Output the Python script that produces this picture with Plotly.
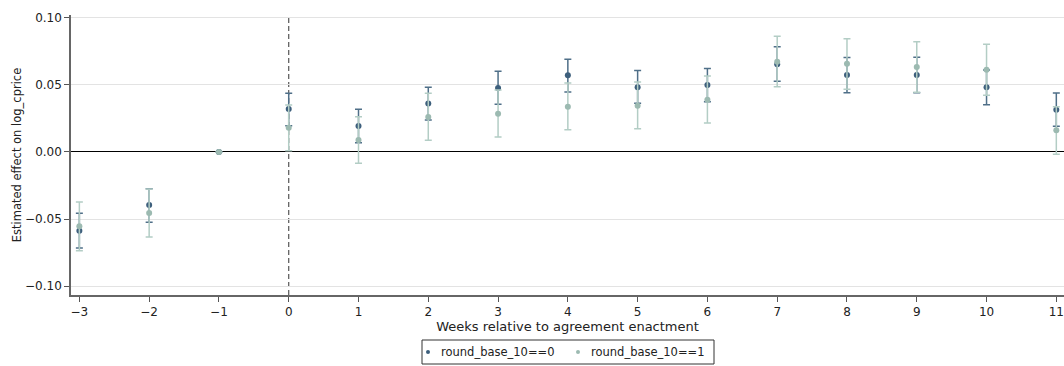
import plotly.graph_objects as go

# Event-study estimates by week relative to enactment
weeks = [-3, -2, -1, 0, 1, 2, 3, 4, 5, 6, 7, 8, 9, 10, 11]

coef_0 = [-0.0587, -0.0395, 0.0, 0.0321, 0.0194, 0.0361, 0.0478, 0.0572, 0.0483, 0.0500, 0.0654, 0.0575, 0.0575, 0.0483, 0.0316]
lo_0 = [-0.0716, -0.0525, 0.0, 0.0196, 0.0069, 0.0239, 0.0356, 0.0448, 0.0363, 0.0375, 0.0527, 0.0442, 0.0442, 0.0353, 0.0192]
hi_0 = [-0.0458, -0.0274, 0.0, 0.0438, 0.0318, 0.0483, 0.0602, 0.0692, 0.0607, 0.0622, 0.0786, 0.0704, 0.0706, 0.0612, 0.0440]

coef_1 = [-0.0555, -0.0455, 0.0, 0.0181, 0.0090, 0.0261, 0.0286, 0.0338, 0.0345, 0.0390, 0.0674, 0.0659, 0.0634, 0.0614, 0.0162]
lo_1 = [-0.0736, -0.0634, 0.0, 0.0010, -0.0084, 0.0087, 0.0112, 0.0166, 0.0174, 0.0216, 0.0487, 0.0468, 0.0445, 0.0423, -0.0017]
hi_1 = [-0.0373, -0.0276, 0.0, 0.0351, 0.0263, 0.0438, 0.0463, 0.0515, 0.0522, 0.0567, 0.0863, 0.0845, 0.0823, 0.0803, 0.0338]

names = ["round_base_10==0", "round_base_10==1"]
y_ticks = [-0.10, -0.05, 0.00, 0.05, 0.10]

DARK = "#3d5f7c"
DARK_BAR = "#4f6f88"
LIGHT = "#9cbab1"
LIGHT_BAR = "#b3cdc5"
FONT = "DejaVu Sans, Liberation Sans, sans-serif"

W, H = 1064, 366
M_L, M_R, M_T, M_B = 71, 0, 15, 71
PW, PH = W - M_L - M_R, H - M_T - M_B


def px_x(px):
    """Pixel column -> paper x."""
    return (px - M_L) / PW


def px_y(py):
    """Pixel row -> paper y."""
    return (H - M_B - py) / PH


fig = go.Figure()

series = [
    (names[0], coef_0, lo_0, hi_0, DARK, DARK_BAR),
    (names[1], coef_1, lo_1, hi_1, LIGHT, LIGHT_BAR),
]
for name, c, lo, hi, col, barcol in series:
    fig.add_trace(go.Scatter(
        x=weeks, y=c, mode="markers", name=name, showlegend=False,
        marker=dict(color=col, size=6),
        error_y=dict(
            type="data", symmetric=False,
            array=[h - v for h, v in zip(hi, c)],
            arrayminus=[v - l for v, l in zip(c, lo)],
            color=barcol, thickness=1.5, width=3.5,
        ),
    ))

# Vertical reference line at enactment week
fig.add_shape(type="line", x0=0, x1=0, y0=0, y1=1, xref="x", yref="paper",
              line=dict(color="#555555", width=1.2, dash="5px,3px"), layer="below")

# Compact framed legend below the x-axis title
box_l, box_r, box_t, box_b = 422, 714, 340, 364
row = (box_t + box_b) / 2
fig.add_shape(type="rect", xref="paper", yref="paper",
              x0=px_x(box_l), x1=px_x(box_r), y0=px_y(box_b), y1=px_y(box_t),
              line=dict(color="#333333", width=1), fillcolor="white")
item_starts = [428, 578]
dot_r = 2
for (name, c, lo, hi, col, barcol), dot_x in zip(series, item_starts):
    fig.add_shape(type="circle", xref="paper", yref="paper",
                  x0=px_x(dot_x - dot_r), x1=px_x(dot_x + dot_r),
                  y0=px_y(row + dot_r), y1=px_y(row - dot_r),
                  line=dict(width=0), fillcolor=col)
    fig.add_annotation(text=name, xref="paper", yref="paper",
                       x=px_x(dot_x + 11), y=px_y(row), xanchor="left", yanchor="middle",
                       showarrow=False, font=dict(size=11.5, color="#222222"))

fig.update_layout(
    width=W, height=H,
    margin=dict(l=M_L, r=M_R, t=M_T, b=M_B),
    plot_bgcolor="white", paper_bgcolor="white",
    font=dict(family=FONT, size=12, color="#222222"),
    showlegend=False,
)

fig.update_xaxes(
    range=[-3.12, 11.11],
    tickmode="array", tickvals=weeks,
    ticks="outside", ticklen=5, tickcolor="#555555",
    showline=True, linecolor="#666666", linewidth=1.5,
    showgrid=False, zeroline=False,
    tickfont=dict(size=12),
    title=dict(text="Weeks relative to agreement enactment", font=dict(size=13), standoff=3),
)

fig.update_yaxes(
    range=[-0.1067, 0.1022],
    tickmode="array", tickvals=y_ticks, tickformat=".2f",
    ticks="outside", ticklen=5, tickcolor="#555555",
    showline=True, linecolor="#666666", linewidth=1.5,
    showgrid=True, gridcolor="#e3e3e3", gridwidth=1,
    zeroline=True, zerolinecolor="#000000", zerolinewidth=1.3,
    tickfont=dict(size=12),
    title=dict(text="Estimated effect on log_cprice", font=dict(size=11.5), standoff=1),
)

fig.write_html("out.html")
